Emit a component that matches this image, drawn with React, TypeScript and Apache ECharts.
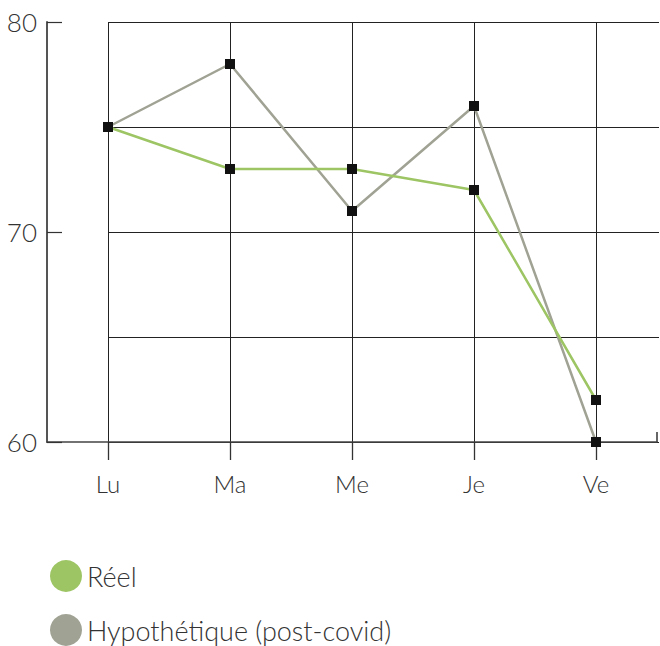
import React, { useEffect, useRef } from "react";
import * as echarts from "echarts";

const categories = ["Lu", "Ma", "Me", "Je", "Ve"];
const reel = [75, 73, 73, 72, 62];
const hypothetique = [75, 78, 71, 76, 60];
const seriesNames = ["Réel", "Hypothétique (post-covid)"];
const seriesColors = ["#9dc564", "#a0a293"];

const FONT = "Lato";

export default function App() {
  const ref = useRef<HTMLDivElement>(null);
  useEffect(() => {
    if (!ref.current) return;
    const chart = echarts.init(ref.current, undefined, { renderer: "svg" });
    const legendBase = {
      left: 50,
      padding: 0,
      icon: "circle",
      itemWidth: 32,
      itemHeight: 32,
      itemGap: 6,
      textStyle: { color: "#333", fontSize: 27, fontWeight: 300, fontFamily: FONT },
    };
    chart.setOption({
      animation: false,
      textStyle: { fontFamily: FONT },
      grid: [
        { left: 47, right: 3, top: 22, bottom: 204 },
        { left: 108, right: 1, top: 22, bottom: 204 },
      ],
      xAxis: [
        {
          type: "category",
          gridIndex: 0,
          data: categories,
          boundaryGap: true,
          axisLine: { show: true, lineStyle: { color: "#444", width: 1.5 } },
          axisTick: { show: true, inside: false, alignWithLabel: true, length: 18, lineStyle: { color: "#333", width: 1.3 } },
          splitLine: { show: true, alignWithLabel: true, lineStyle: { color: "#222", width: 1 } },
          axisLabel: { color: "#333", fontSize: 24, fontWeight: 300, margin: 29, fontFamily: FONT },
        },
        {
          type: "category",
          gridIndex: 1,
          data: categories,
          show: false,
        },
      ],
      yAxis: [
        {
          type: "value",
          gridIndex: 0,
          min: 60,
          max: 80,
          interval: 10,
          axisLine: { show: true, lineStyle: { color: "#555", width: 2 } },
          axisTick: { show: true, inside: true, length: 15, lineStyle: { color: "#333", width: 1.2 } },
          splitLine: { show: false },
          axisLabel: { color: "#333", fontSize: 26, fontWeight: 300, margin: 10, fontFamily: FONT },
        },
        {
          type: "value",
          gridIndex: 1,
          min: 60,
          max: 80,
          interval: 5,
          axisLine: { show: false },
          axisTick: { show: false },
          axisLabel: { show: false },
          splitLine: { show: true, lineStyle: { color: "#222", width: 1 } },
        },
      ],
      legend: [
        {
          ...legendBase,
          top: 560,
          data: [{ name: seriesNames[0], itemStyle: { color: seriesColors[0] } }],
        },
        {
          ...legendBase,
          top: 614,
          data: [{ name: seriesNames[1], itemStyle: { color: seriesColors[1] } }],
        },
      ],
      graphic: [
        {
          type: "line",
          shape: { x1: 657, y1: 432, x2: 657, y2: 442 },
          style: { stroke: "#333", lineWidth: 1.5 },
        },
      ],
      series: [
        {
          name: seriesNames[1],
          type: "line",
          xAxisIndex: 0,
          yAxisIndex: 0,
          data: hypothetique,
          symbol: "rect",
          symbolSize: 10,
          itemStyle: { color: "#111" },
          lineStyle: { color: seriesColors[1], width: 2.5 },
          z: 3,
        },
        {
          name: seriesNames[0],
          type: "line",
          xAxisIndex: 0,
          yAxisIndex: 0,
          data: reel,
          symbol: "rect",
          symbolSize: 10,
          itemStyle: { color: "#111" },
          lineStyle: { color: seriesColors[0], width: 2.5 },
          z: 4,
        },
      ],
    });
    return () => chart.dispose();
  }, []);
  return <div ref={ref} style={{ width: 660, height: 646, position: "absolute", left: 0, top: 0 }} />;
}
